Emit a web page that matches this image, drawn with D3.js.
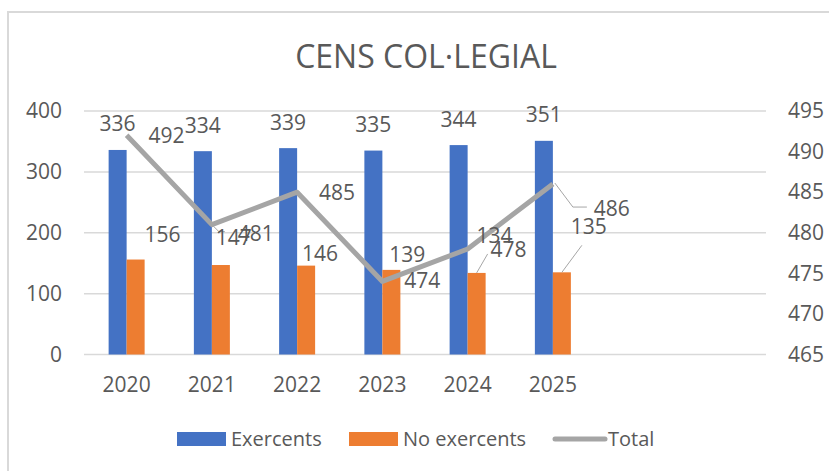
<!DOCTYPE html>
<html>
<head>
<meta charset="utf-8">
<script src="https://cdn.jsdelivr.net/npm/d3@7"></script>
<style>
  body { margin: 0; background: #fff; }
  svg text { font-family: "Open Sans", "Noto Sans", sans-serif; fill: #595959; }
</style>
</head>
<body>
<div id="chart"></div>
<script>
var years = ["2020", "2021", "2022", "2023", "2024", "2025"];
var exercents = [336, 334, 339, 335, 344, 351];
var noExercents = [156, 147, 146, 139, 134, 135];
var total = [492, 481, 485, 474, 478, 486];
var leftTicks = [0, 100, 200, 300, 400];
var rightTicks = [465, 470, 475, 480, 485, 490, 495];

// label nudges (Excel labels were dragged around by hand)
var noExLabelShift = [[27, -18], [13, -20], [14, -5], [16, -8], [18, -30], [27, -38]];
var totalLabelShift = [[40, 8], [44, 16], [40, 8], [40, 7], [41, 8], [59, 32]];

var W = 829, H = 471;
var plot = { left: 84, right: 766, top: 111, bottom: 354.5 };
var numSize = "21px";

var svg = d3.select("#chart").append("svg")
  .attr("width", W)
  .attr("height", H);

// chart border
svg.append("rect")
  .attr("x", 8).attr("y", 12)
  .attr("width", W + 10).attr("height", H + 10)
  .attr("fill", "none")
  .attr("stroke", "#d9d9d9")
  .attr("stroke-width", 2);

svg.append("text")
  .attr("x", 426).attr("y", 68)
  .attr("text-anchor", "middle")
  .style("font-size", "32px")
  .text("CENS COL·LEGIAL");

// 8 slots, last two are empty
var x = d3.scaleBand()
  .domain(years.concat(["", " "]))
  .range([plot.left, plot.right]);
var xs = d3.scaleBand()
  .domain(["ex", "noex"])
  .range([-18, 18]);
var y = d3.scaleLinear().domain([0, 400]).range([plot.bottom, plot.top]);
var y2 = d3.scaleLinear().domain([465, 495]).range([plot.bottom, plot.top]);

var cx = function (i) { return x(years[i]) + x.bandwidth() / 2; };

// gridlines
svg.append("g")
  .selectAll("line")
  .data(leftTicks)
  .enter()
  .append("line")
  .attr("x1", plot.left).attr("x2", plot.right)
  .attr("y1", function (d) { return y(d); })
  .attr("y2", function (d) { return y(d); })
  .attr("stroke", "#d9d9d9")
  .attr("stroke-width", 1.5);

// left axis
var yAxis = svg.append("g")
  .attr("transform", "translate(" + 62 + ",0)")
  .call(d3.axisLeft(y).tickValues(leftTicks).tickSize(0).tickPadding(0));
yAxis.select(".domain").remove();
yAxis.selectAll("text").style("font-size", numSize).attr("fill", null);

// right axis
var y2Axis = svg.append("g")
  .attr("transform", "translate(" + 788 + ",0)")
  .call(d3.axisRight(y2).tickValues(rightTicks).tickSize(0).tickPadding(0));
y2Axis.select(".domain").remove();
y2Axis.selectAll("text").style("font-size", numSize).attr("fill", null);

// bottom axis labels
var xAxis = svg.append("g")
  .attr("transform", "translate(0," + plot.bottom + ")")
  .call(d3.axisBottom(x).tickValues(years).tickSize(0).tickPadding(23));
xAxis.select(".domain").remove();
xAxis.selectAll("text").style("font-size", numSize).attr("fill", null);

// bars
var bars = svg.append("g");
bars.selectAll("rect.ex")
  .data(exercents)
  .enter()
  .append("rect")
  .attr("class", "ex")
  .attr("x", function (d, i) { return cx(i) + xs("ex"); })
  .attr("width", xs.bandwidth())
  .attr("y", function (d) { return y(d); })
  .attr("height", function (d) { return y(0) - y(d); })
  .attr("fill", "#4472c4");
bars.selectAll("rect.noex")
  .data(noExercents)
  .enter()
  .append("rect")
  .attr("class", "noex")
  .attr("x", function (d, i) { return cx(i) + xs("noex"); })
  .attr("width", xs.bandwidth())
  .attr("y", function (d) { return y(d); })
  .attr("height", function (d) { return y(0) - y(d); })
  .attr("fill", "#ed7d31");

// total line
var line = d3.line()
  .x(function (d, i) { return cx(i); })
  .y(function (d) { return y2(d); });
svg.append("path")
  .datum(total)
  .attr("d", line)
  .attr("fill", "none")
  .attr("stroke", "#a5a5a5")
  .attr("stroke-width", 5)
  .attr("stroke-linejoin", "round");

// leader lines
var leaders = svg.append("g")
  .attr("fill", "none")
  .attr("stroke", "#a6a6a6")
  .attr("stroke-width", 1);
// No exercents 2024 / 2025
[4, 5].forEach(function (i) {
  var bx = cx(i) + xs("noex") + xs.bandwidth() / 2;
  var by = y(noExercents[i]);
  var s = noExLabelShift[i];
  leaders.append("path")
    .attr("d", "M" + bx + "," + by + "L" + (bx + s[0] - 7) + "," + (by + s[1] + 11));
});
// Total 2025
(function () {
  var px = cx(5), py = y2(total[5]);
  leaders.append("path")
    .attr("d", "M" + (px + 2) + "," + (py - 1) + "L" + (px + 20) + "," + (py + 23) + "L" + (px + 34) + "," + (py + 23));
})();
// Total 2021
(function () {
  var px = cx(1), py = y2(total[1]);
  leaders.append("path")
    .attr("d", "M" + (px + 1) + "," + (py + 1) + "L" + (px + 7) + "," + (py + 7) + "L" + (px + 13) + "," + (py + 7));
})();

// data labels
var labels = svg.append("g").style("font-size", numSize).attr("text-anchor", "middle");
labels.selectAll("text.ex")
  .data(exercents)
  .enter()
  .append("text")
  .attr("x", function (d, i) { return cx(i) + xs("ex") + xs.bandwidth() / 2; })
  .attr("y", function (d) { return y(d) - 18.5; })
  .text(function (d) { return d; });
labels.selectAll("text.noex")
  .data(noExercents)
  .enter()
  .append("text")
  .attr("x", function (d, i) { return cx(i) + xs("noex") + xs.bandwidth() / 2 + noExLabelShift[i][0]; })
  .attr("y", function (d, i) { return y(d) + noExLabelShift[i][1]; })
  .text(function (d) { return d; });
labels.selectAll("text.tot")
  .data(total)
  .enter()
  .append("text")
  .attr("x", function (d, i) { return cx(i) + totalLabelShift[i][0]; })
  .attr("y", function (d, i) { return y2(d) + totalLabelShift[i][1]; })
  .text(function (d) { return d; });

// legend
var legendItems = [
  { name: "Exercents", color: "#4472c4", type: "rect", x: 177 },
  { name: "No exercents", color: "#ed7d31", type: "rect", x: 349 },
  { name: "Total", color: "#a5a5a5", type: "line", x: 553 }
];
var legend = svg.append("g")
  .selectAll("g")
  .data(legendItems)
  .enter()
  .append("g")
  .attr("transform", function (d) { return "translate(" + d.x + ",439)"; });
legend.each(function (d) {
  var g = d3.select(this);
  if (d.type === "rect") {
    g.append("rect").attr("x", 0).attr("y", -7).attr("width", 49).attr("height", 14).attr("fill", d.color);
  } else {
    g.append("line").attr("x1", 2).attr("x2", 52).attr("y1", 0).attr("y2", 0)
      .attr("stroke", d.color).attr("stroke-width", 5).attr("stroke-linecap", "round");
  }
  g.append("text")
    .attr("x", d.type === "rect" ? 54 : 55)
    .attr("y", 7)
    .style("font-size", "20px")
    .text(d.name);
});
</script>
</body>
</html>
